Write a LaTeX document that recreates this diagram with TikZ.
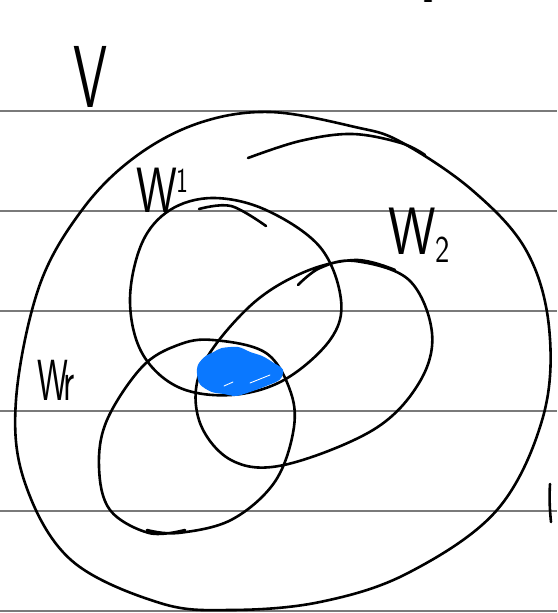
\documentclass[tikz,border=0pt]{standalone}
\usepackage{tikz}
\usetikzlibrary{positioning}
\definecolor{InkBlack}{HTML}{000000}
\definecolor{RuleGray}{HTML}{7A7A7A}
\definecolor{HiliteBlue}{HTML}{0A78FF}
\tikzset{
    % Paper and ink styles
    ruleline/.style={
        draw=RuleGray,
        line width=1.6pt
    },
    inkstroke/.style={
        draw=InkBlack,
        line width=2.6pt,
        line cap=round,
        line join=round
    },
    inkfill/.style={
        fill=HiliteBlue,
        draw=HiliteBlue,
        line width=2pt,
        line join=round
    },
    setlabel/.style={
        inner sep=0pt,
        text=InkBlack
    }
}

\begin{document}
\begin{tikzpicture}[x=1pt,y=-1pt]
    \useasboundingbox (0,0) rectangle (557,613);

    % Ruled paper
    \foreach \ypos in {111,211,311,411,511,611}
        \draw[ruleline] (0,\ypos) -- (557,\ypos);

    % Space V
    \draw[inkstroke] plot[smooth cycle, tension=0.6] coordinates {
        (270,112) (355,127) (401,142) (472,190) (526,250) (549,327)
        (543,417) (497,510) (408,573) (320,602) (231,610) (160,603) (71,560)
        (25,483) (16,400) (39,287) (82,210) (135,157) (199,123)};
    \draw[inkstroke] plot[smooth, tension=0.6] coordinates {
        (248,158) (300,141) (352,134) (401,143) (425,155)};

    % Subspace W1
    \draw[inkstroke] plot[smooth cycle, tension=0.6] coordinates {
        (213,198) (266,210) (320,247) (341,300) (330,340) (284,380)
        (231,395) (178,387) (142,353) (130,300) (142,243) (170,210)};
    \draw[inkstroke] plot[smooth, tension=0.6] coordinates {
        (199,209) (231,206) (266,226)};

    % Subspace W2
    \draw[inkstroke] plot[smooth, tension=0.6] coordinates {
        (298,285) (320,268) (355,261) (409,280) (432,333) (419,383) (373,430)
        (284,465) (231,460) (199,420) (202,367) (249,307) (302,273)
        (355,260) (395,270)};

    % Subspace Wr
    \draw[inkstroke] plot[smooth, tension=0.6] coordinates {
        (185,530) (149,533) (110,510) (99,467) (107,420) (142,367)
        (178,345) (213,340) (266,353) (291,393) (293,433) (274,483)
        (231,520) (178,533) (147,530)};

    % Common intersection
    \draw[inkfill] plot[smooth cycle, tension=0.5] coordinates {
        (199,365) (206,357) (214,353) (222,349) (238,348) (250,353) (262,357)
        (272,363) (282,370) (279,379) (266,385) (250,391) (236,395) (224,393)
        (212,391) (201,384) (198,374)};
    \draw[white, line width=0.9pt, line cap=round] (250,383) -- (270,375);
    \draw[white, line width=0.9pt, line cap=round] (224,386) -- (233,382);

    % Labels
    \node[setlabel, xscale=0.62, font=\sffamily\fontsize{88}{88}\selectfont, anchor=base] (labV) at (91,107) {V};
    \node[setlabel, xscale=0.72, font=\sffamily\fontsize{64}{64}\selectfont, anchor=base west] (labWone) at (136,212)
        {W\raisebox{0.3em}{\fontsize{35}{35}\selectfont 1}};
    \node[setlabel, xscale=0.8, font=\sffamily\fontsize{67}{67}\selectfont, anchor=base west] (labWtwo) at (388,254)
        {W\raisebox{-0.13em}{\fontsize{38}{38}\selectfont 2}};
    \node[setlabel, xscale=0.6, font=\sffamily\fontsize{58}{58}\selectfont, anchor=base west] (labWr) at (37,400) {W\kern-0.12em r};

    % Cut-off strokes at the edges
    \draw[inkstroke] (550,484) .. controls (549,500) and (550,512) .. (551,522);
    \draw[inkstroke] (425,1) -- (431,1);
\end{tikzpicture}
\end{document}
